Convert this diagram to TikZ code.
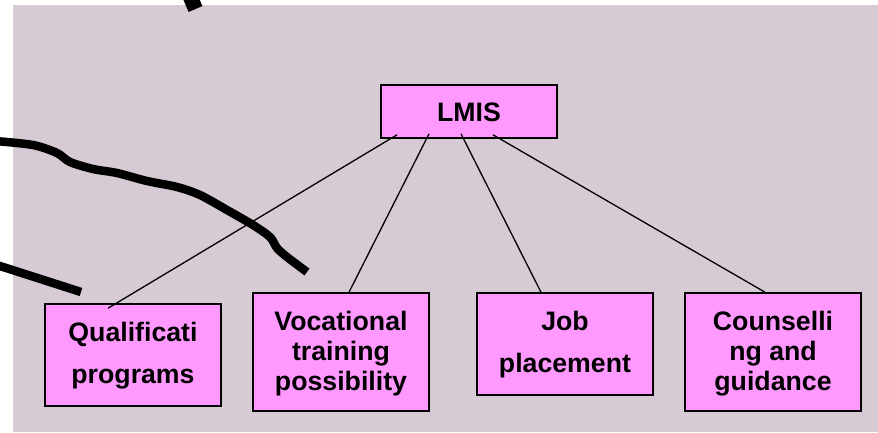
\documentclass[tikz,border=0pt]{standalone}
\usepackage{fontspec}
\setmainfont{Liberation Sans}
\definecolor{bgcol}{RGB}{214,202,212}
\definecolor{boxpink}{RGB}{255,153,255}
\newcommand\shiftedtext[2]{\raisebox{#1}[\height][\depth]{\begin{tabular}{@{}c@{}}#2\end{tabular}}}
\tikzset{
  boxnode/.style={draw=black, fill=boxpink, line width=1.6pt, inner sep=0pt,
    minimum width=176pt, align=center, text=black},
  threeline/.style={boxnode, minimum height=118pt, font=\fontsize{26.7}{30}\selectfont\bfseries},
  twoline/.style={boxnode, minimum height=102pt, font=\fontsize{26.7}{42}\selectfont\bfseries},
  link/.style={draw=black, line width=1.3pt},
  annot/.style={draw=black, line width=8.5pt, line cap=butt, line join=round}
}
\begin{document}
\begin{tikzpicture}[x=1pt,y=-1pt]
\useasboundingbox (0,0) rectangle (878,432);
\clip (0,0) rectangle (878,432);
\fill[bgcol] (13,5) rectangle (878,432);

\node[boxnode, minimum height=53pt, font=\fontsize{26.7}{31}\selectfont\bfseries] (lmis) at (469,111.5) {\raisebox{-1pt}[\height][\depth]{LMIS}};
\node[twoline] (qual) at (133,355) {\shiftedtext{1.4pt}{Qualificati\\programs}};
\node[threeline] (voc) at (341,352) {\shiftedtext{-2pt}{Vocational\\training\\possibility}};
\node[twoline] (job) at (565,344) {\shiftedtext{1.4pt}{Job\\placement}};
\node[threeline] (coun) at (773,352) {\shiftedtext{-2pt}{Counselli\\ng and\\guidance}};

\draw[link] ([xshift=-72pt,yshift=4pt]lmis.south) -- ([xshift=-25pt,yshift=-5pt]qual.north);
\draw[link] ([xshift=-40pt,yshift=5pt]lmis.south) -- ([xshift=8pt]voc.north);
\draw[link] ([xshift=-8pt,yshift=5pt]lmis.south) -- ([xshift=-24pt]job.north);
\draw[link] ([xshift=24pt,yshift=4pt]lmis.south) -- ([xshift=-8pt]coun.north);

% freehand annotation strokes
\draw[annot, line width=15pt] (183.7,-18.6) -- (195.5,9);
\draw[annot] plot[smooth, tension=0.5] coordinates {(-5,141) (33,145) (57,153) (70,162) (93,169) (117,173) (147,181) (177,187) (200,195) (227,210) (253,225) (270,237) (277,248) (287,257) (307,272)};
\draw[annot] (-5,264.4) -- (81,292);
\end{tikzpicture}
\end{document}
